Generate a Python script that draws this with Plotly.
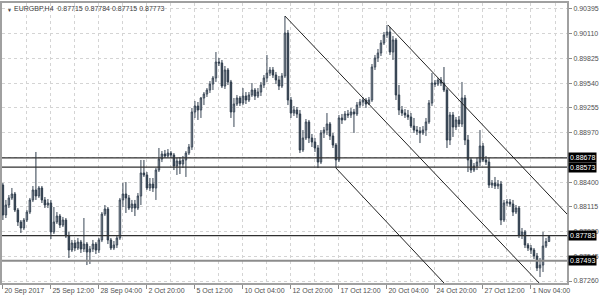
import plotly.graph_objects as go

symbol_title = "EURGBP,H4  0.87715 0.87784 0.87715 0.87773"

open_ = [
 .88366,.88021,.88136,.88217,.88263,.88078,.87940,.87871,.87963,.88055,
 .88194,.88309,.88240,.88332,.88194,.88136,.88159,.87825,.87940,.88009,
 .87905,.87963,.87779,.87617,.87698,.87640,.87709,.87629,.87686,.87594,
 .87629,.87686,.87617,.87733,.88032,.88090,.87733,.87640,.87675,.87756,
 .88194,.88263,.88217,.88101,.88147,.88101,.88240,.88505,.88482,.88332,
 .88378,.88332,.88539,.88666,.88724,.88701,.88735,.88712,.88585,.88643,
 .88608,.88655,.88735,.88804,.89208,.89277,.89231,.89369,.89415,.89461,
 .89530,.89600,.89784,.89773,.89507,.89692,.89554,.89208,.89300,.89369,
 .89311,.89392,.89346,.89404,.89461,.89392,.89438,.89519,.89600,.89657,
 .89692,.89634,.89577,.89507,.89623,.90118,.89346,.89196,.89231,.89185,
 .88770,.88908,.89093,.88908,.88862,.88793,.88631,.88966,.89000,.89070,
 .88931,.88827,.88655,.89139,.89116,.89185,.89173,.89208,.89185,.89288,
 .89323,.89346,.89300,.89346,.89726,.89830,.89888,.90003,.90095,.90130,
 .89899,.90038,.89404,.89231,.89196,.89173,.89150,.89046,.89000,.88989,
 .88966,.89000,.89093,.89311,.89542,.89530,.89577,.89542,.89461,.88885,
 .89173,.89035,.89116,.89070,.89369,.88885,.88655,.88539,.88585,.88631,
 .88816,.88655,.88631,.88366,.88389,.88355,.88378,.87963,.88159,.88170,
 .88147,.88055,.88101,.87790,.87825,.87675,.87640,.87617,.87548,.87410,
 .87444,.87663,.87715]

high = [
 .88389,.88194,.88251,.88332,.88286,.88101,.87963,.87986,.88078,.88217,
 .88355,.88747,.88355,.88355,.88228,.88205,.88194,.88113,.88055,.88032,
 .87998,.87986,.87825,.87733,.87733,.87756,.87733,.87986,.87709,.87663,
 .87733,.87709,.87756,.88055,.88136,.88113,.87756,.87721,.87790,.88217,
 .88389,.88401,.88251,.88194,.88194,.88274,.88655,.88655,.88516,.88447,
 .88447,.88562,.88793,.88758,.88770,.88781,.88758,.88735,.88678,.88689,
 .88701,.88758,.88839,.89254,.89335,.89323,.89381,.89438,.89484,.89565,
 .89623,.89899,.89830,.89807,.89738,.89715,.89577,.89369,.89404,.89392,
 .89484,.89438,.89438,.89542,.89484,.89484,.89554,.89634,.89865,.89726,
 .89726,.89669,.89623,.89657,.90314,.90153,.89381,.89277,.89265,.89231,
 .89000,.89127,.89116,.88954,.88908,.88827,.89000,.89035,.89196,.89093,
 .88966,.88850,.89173,.89185,.89219,.89231,.89254,.89242,.89323,.89358,
 .89381,.89369,.89381,.89761,.89865,.89934,.90038,.90130,.90211,.90188,
 .90084,.90061,.89519,.89277,.89242,.89231,.89196,.89139,.89046,.89035,
 .89046,.89139,.89346,.89657,.89577,.89600,.89611,.89726,.89484,.89208,
 .89208,.89150,.89162,.89554,.89404,.88943,.88678,.88620,.88678,.89000,
 .88850,.88701,.88678,.88424,.88459,.88424,.88413,.88194,.88205,.88205,
 .88194,.88136,.88124,.87871,.87848,.87698,.87675,.87640,.87583,.87525,
 .87825,.87756,.87784]

low = [
 .87963,.87986,.88101,.88194,.88055,.87894,.87813,.87848,.87940,.88032,
 .88170,.88194,.88217,.88159,.88101,.88101,.87744,.87802,.87917,.87871,
 .87882,.87756,.87525,.87594,.87606,.87617,.87583,.87594,.87444,.87456,
 .87594,.87571,.87583,.87709,.88009,.87686,.87617,.87617,.87640,.87733,
 .88113,.88044,.88078,.88055,.88009,.88078,.88136,.88459,.88309,.88297,
 .88286,.88194,.88516,.88631,.88678,.88678,.88678,.88539,.88482,.88493,
 .88562,.88459,.88712,.88770,.89139,.89116,.89139,.89288,.89381,.89427,
 .89461,.89554,.89738,.89484,.89473,.89519,.89139,.89035,.89277,.89277,
 .89288,.89300,.89323,.89381,.89346,.89369,.89392,.89484,.89554,.89623,
 .89600,.89530,.89461,.89484,.89600,.89288,.89139,.89162,.89139,.88735,
 .88747,.88885,.88850,.88804,.88747,.88562,.88608,.88908,.88943,.88885,
 .88793,.88562,.88631,.89070,.89116,.89139,.89139,.88966,.89162,.89254,
 .89277,.89254,.89288,.89323,.89692,.89784,.89853,.89980,.90061,.89865,
 .89807,.89346,.89173,.89162,.89139,.89116,.89023,.88966,.88943,.88850,
 .88943,.88931,.89070,.89277,.89496,.89507,.89507,.89438,.88793,.88827,
 .88920,.89000,.89035,.89035,.88827,.88516,.88505,.88516,.88539,.88585,
 .88631,.88597,.88332,.88332,.88320,.88320,.87905,.87940,.88124,.88113,
 .88009,.88032,.87756,.87744,.87640,.87606,.87571,.87513,.87375,.87306,
 .87364,.87640,.87715]

close = [
 .88021,.88136,.88217,.88263,.88078,.87940,.87871,.87963,.88055,.88194,
 .88309,.88240,.88332,.88194,.88136,.88159,.87825,.87940,.88009,.87905,
 .87963,.87779,.87617,.87698,.87640,.87709,.87629,.87686,.87594,.87629,
 .87686,.87617,.87733,.88032,.88090,.87733,.87640,.87675,.87756,.88194,
 .88263,.88217,.88101,.88147,.88101,.88240,.88505,.88482,.88332,.88378,
 .88332,.88539,.88666,.88724,.88701,.88735,.88712,.88585,.88643,.88608,
 .88655,.88735,.88804,.89208,.89277,.89231,.89369,.89415,.89461,.89530,
 .89600,.89784,.89773,.89507,.89692,.89554,.89208,.89300,.89369,.89311,
 .89392,.89346,.89404,.89461,.89392,.89438,.89519,.89600,.89657,.89692,
 .89634,.89577,.89507,.89623,.90118,.89346,.89196,.89231,.89185,.88770,
 .88908,.89093,.88908,.88862,.88793,.88631,.88966,.89000,.89070,.88931,
 .88827,.88655,.89139,.89116,.89185,.89173,.89208,.89185,.89288,.89323,
 .89346,.89300,.89346,.89726,.89830,.89888,.90003,.90095,.90130,.89899,
 .90038,.89404,.89231,.89196,.89173,.89150,.89046,.89000,.88989,.88966,
 .89000,.89093,.89311,.89542,.89530,.89577,.89542,.89461,.88885,.89173,
 .89035,.89116,.89070,.89369,.88885,.88655,.88539,.88585,.88631,.88816,
 .88655,.88631,.88366,.88389,.88355,.88378,.87963,.88159,.88170,.88147,
 .88055,.88101,.87790,.87825,.87675,.87640,.87617,.87548,.87410,.87444,
 .87663,.87715,.87773]

x_tick_labels = ["20 Sep 2017", "25 Sep 12:00", "28 Sep 04:00", "2 Oct 20:00",
                 "5 Oct 12:00", "10 Oct 04:00", "12 Oct 20:00", "17 Oct 12:00",
                 "20 Oct 04:00", "24 Oct 20:00", "27 Oct 12:00", "1 Nov 04:00"]
x_tick_bars = [0, 16, 32, 48, 64, 80, 96, 112, 128, 144, 160, 176]
y_tick_values = [0.90395, 0.90110, 0.89825, 0.89540, 0.89255, 0.88970,
                 0.88685, 0.88400, 0.88115, 0.87830, 0.87545, 0.87260]
# 0.88685 is fully covered by the 0.88678 level label in the reference
y_tick_text = ["0.90395", "0.90110", "0.89825", "0.89540", "0.89255", "0.88970",
               "", "0.88400", "0.88115", "0.87830", "0.87545", "0.87260"]

levels = [0.88678, 0.88573, 0.87783, 0.87493]
level_colors = ["#303030", "#303030", "#303030", "#8c8c8c"]
level_widths = [1.2, 1.2, 1.2, 2]

# trend lines: (bar0, price0, bar1, price1)
trend_lines = [
    (94, 0.90314, 178.7, 0.87237),
    (111, 0.88562, 147.0, 0.87237),
    (128.3, 0.90211, 188.3, 0.88021),
]

bars = list(range(len(close)))

fig = go.Figure()
fig.add_trace(go.Candlestick(
    x=bars, open=open_, high=high, low=low, close=close,
    increasing=dict(fillcolor="#aeb7c0", line=dict(color="#3a4756", width=1)),
    decreasing=dict(fillcolor="#2e3c4b", line=dict(color="#2e3c4b", width=1)),
    whiskerwidth=0, hoverinfo="skip", showlegend=False,
))

shapes = []
for p, c, w in zip(levels, level_colors, level_widths):
    shapes.append(dict(type="line", xref="paper", x0=0, x1=1, yref="y", y0=p, y1=p,
                       line=dict(color=c, width=w)))
for b0, p0, b1, p1 in trend_lines:
    shapes.append(dict(type="line", xref="x", yref="y", x0=b0, y0=p0, x1=b1, y1=p1,
                       line=dict(color="#222222", width=1)))

annotations = [
    dict(xref="paper", yref="paper", x=0, y=1, xanchor="left", yanchor="top",
         xshift=3, yshift=-2, text="▼", showarrow=False,
         font=dict(size=5, color="#404040", family="Liberation Sans")),
    dict(xref="paper", yref="paper", x=0, y=1, xanchor="left", yanchor="top",
         xshift=10, yshift=0, text=symbol_title, showarrow=False,
         font=dict(size=7, color="#404040", family="Liberation Sans")),
]
for p in levels:
    annotations.append(dict(xref="paper", yref="y", x=1, y=p, xanchor="left",
                            yanchor="middle", xshift=1, text=f"{p:.5f}", showarrow=False,
                            bgcolor="#000000", borderpad=1,
                            font=dict(size=7, color="#ffffff", family="Liberation Sans")))

fig.update_layout(
    width=600, height=300,
    margin=dict(l=2, r=33, t=3, b=17, autoexpand=False),
    paper_bgcolor="white", plot_bgcolor="white",
    shapes=shapes, annotations=annotations,
    xaxis=dict(
        range=[-0.3, 188], rangeslider=dict(visible=False),
        tickmode="array", tickvals=x_tick_bars, ticktext=x_tick_labels,
        ticklabelposition="outside right", tickangle=0, automargin=False,
        ticks="outside", ticklen=4, tickcolor="#8c8c8c",
        tickfont=dict(size=7, color="#505050", family="Liberation Sans"),
        showgrid=True, gridcolor="#d4d4d4", griddash="dot", gridwidth=1,
        minor=dict(tickmode="linear", tick0=0, dtick=8, showgrid=True,
                   gridcolor="#d4d4d4", griddash="dot", ticks=""),
        showline=True, linecolor="#a0a0a0", linewidth=2, mirror=True,
        zeroline=False, fixedrange=True,
    ),
    yaxis=dict(
        range=[0.87237, 0.90464], side="right", automargin=False,
        tickmode="array", tickvals=y_tick_values, ticktext=y_tick_text,
        ticks="outside", ticklen=3, tickcolor="#8c8c8c",
        tickfont=dict(size=7, color="#505050", family="Liberation Sans"),
        showgrid=True, gridcolor="#d4d4d4", griddash="dot", gridwidth=1,
        showline=True, linecolor="#a0a0a0", linewidth=2, mirror=True,
        zeroline=False, fixedrange=True,
    ),
)

fig.write_html("out.html")
